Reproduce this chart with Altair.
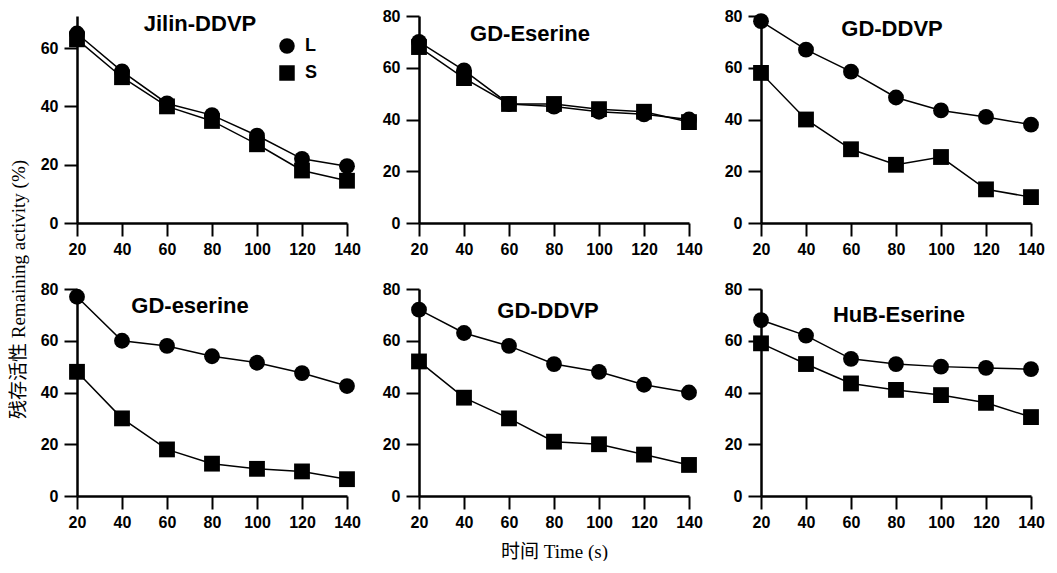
import altair as alt
import pandas as pd

times = [20, 40, 60, 80, 100, 120, 140]
panel_names = ["Jilin-DDVP", "GD-Eserine", "GD-DDVP", "GD-eserine", "GD-DDVP", "HuB-Eserine"]
L_values = [
    [65, 52, 41, 37, 30, 22, 19.5],
    [70, 59, 46, 45, 43, 42, 40],
    [78, 67, 58.5, 48.5, 43.5, 41, 38],
    [77, 60, 58, 54, 51.5, 47.5, 42.5],
    [72, 63, 58, 51, 48, 43, 40],
    [68, 62, 53, 51, 50, 49.5, 49],
]
S_values = [
    [63, 50, 40, 35, 27, 18, 14.5],
    [68, 56, 46, 46, 44, 43, 39],
    [58, 40, 28.5, 22.5, 25.5, 13, 10],
    [48, 30, 18, 12.5, 10.5, 9.5, 6.5],
    [52, 38, 30, 21, 20, 16, 12],
    [59, 51, 43.5, 41, 39, 36, 30.5],
]
y_max = [71, 80, 80, 80, 80, 80]
y_ticks = [[0, 20, 40, 60], [0, 20, 40, 60, 80], [0, 20, 40, 60, 80],
           [0, 20, 40, 60, 80], [0, 20, 40, 60, 80], [0, 20, 40, 60, 80]]
series_names = ["L", "S"]
x_title = "时间 Time (s)"
y_title = "残存活性 Remaining activity (%)"

# title offsets (dx, dy) in pixels for the panel labels
title_shift = [(-12, 20), (-24, 38), (-4, 33), (-22, 37), (-6, 42), (3, 46)]

SANS = "Liberation Sans"
SERIF = "Liberation Serif, Noto Sans CJK SC"

axis_style = dict(domainColor="black", domainWidth=2.5, ticks=True, tickColor="black",
                  tickWidth=2, tickSize=13, labelFont=SANS, labelFontSize=16,
                  labelFontWeight="bold", labelColor="black", labelFlush=False, grid=False)

panels = []
for i, name in enumerate(panel_names):
    rows = []
    for t, l, s in zip(times, L_values[i], S_values[i]):
        rows.append({"time": t, "type": "L", "value": l})
        rows.append({"time": t, "type": "S", "value": s})
    df = pd.DataFrame(rows)

    if i == 4:
        x_axis = alt.Axis(values=times, title=x_title, titlePadding=12, labelPadding=5,
                          titleFont=SERIF, titleFontSize=19, titleFontWeight="normal",
                          titleColor="black", **axis_style)
    else:
        x_axis = alt.Axis(values=times, title=None, labelPadding=5, **axis_style)
    if i == 0:
        y_axis = alt.Axis(values=y_ticks[i], title=y_title, titleX=-49, titleY=273,
                          titleAngle=270, titleAlign="center", titleBaseline="bottom",
                          titleFont=SERIF, titleFontSize=19, titleFontWeight="normal",
                          titleColor="black", labelPadding=6, **axis_style)
    else:
        y_axis = alt.Axis(values=y_ticks[i], title=None, labelPadding=6, **axis_style)

    x = alt.X("time:Q", scale=alt.Scale(domain=[20, 140], nice=False, zero=False), axis=x_axis)
    y = alt.Y("value:Q", scale=alt.Scale(domain=[0, y_max[i]], nice=False), axis=y_axis)

    base = alt.Chart(df)
    line = base.mark_line(color="black", strokeWidth=1.5).encode(
        x=x, y=y, detail="type:N", order="time:Q")
    if i == 0:
        legend = alt.Legend(title=None, orient="none", legendX=201, legendY=21,
                            symbolSize=240, symbolFillColor="black", symbolStrokeColor="black",
                            labelFont=SANS, labelFontSize=18, labelFontWeight="bold",
                            labelColor="black", rowPadding=5, labelOffset=9, padding=0)
    else:
        legend = None
    pts = base.mark_point(filled=True, size=250, color="black", opacity=1).encode(
        x=x, y=y,
        shape=alt.Shape("type:N", scale=alt.Scale(domain=series_names, range=["circle", "square"]),
                        legend=legend))
    dx, dy = title_shift[i]
    panel = alt.layer(line, pts).properties(
        width=270, height=207,
        title=alt.TitleParams(name, anchor="middle", frame="group", fontSize=22,
                              fontWeight="bold", font=SANS, color="black",
                              dx=dx, dy=dy, offset=0, baseline="top"))
    panels.append(panel)

chart = alt.concat(*panels, columns=3, spacing={"row": 66, "column": 72}, bounds="flush").resolve_legend(
    shape="independent").resolve_scale(shape="independent").properties(padding=0).configure_view(
    stroke=None)

chart.save("out.html", embed_options={"renderer": "svg", "actions": False})
